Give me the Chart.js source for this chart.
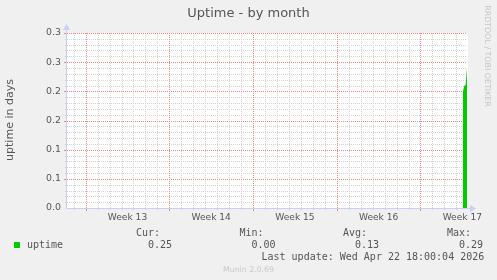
<!DOCTYPE html>
<html>
<head>
<meta charset="utf-8">
<script src="https://cdn.jsdelivr.net/npm/chart.js@4.4.1/dist/chart.umd.min.js"></script>
<style>
  html, body { margin: 0; padding: 0; background: #f0f0f0; }
  #wrap { width: 497px; height: 280px; }
</style>
</head>
<body>
<div id="wrap"><canvas id="uptime-chart" width="497" height="280"></canvas></div>
<script>
// data (x in days since graph start)
const xMaxDays = 33.45;
const yTicks = [0, 0.05, 0.1, 0.15, 0.2, 0.25, 0.3];
const yTickLabels = ['0.0', '0.1', '0.1', '0.2', '0.2', '0.3', '0.3'];
const weekStartDays = [1.56, 8.56, 15.56, 22.56, 29.56];
const weekLabels = ['Week 13', 'Week 14', 'Week 15', 'Week 16', 'Week 17'];
const uptimeDays = [33.11, 33.23, 33.33, 33.45];
const uptimeValues = [0.20, 0.21, 0.21, 0.24];
const legendHeads = ['Cur:', 'Min:', 'Avg:', 'Max:'];
const legendValues = ['0.25', '0.00', '0.13', '0.29'];

const TEXT = '#555555';
const AXIS = '#c9cff5';
const GRID = '#d2d2d2';
const MGRID = '#ee8484';
const GREEN = '#00cc00';
const SANS = '"DejaVu Sans", sans-serif';
const MONO = '"DejaVu Sans Mono", monospace';

function dotted(ctx, color, x1, y1, x2, y2) {
    ctx.save();
    ctx.strokeStyle = color;
    ctx.lineWidth = 1;
    ctx.setLineDash([1, 1]);
    ctx.beginPath();
    ctx.moveTo(x1, y1);
    ctx.lineTo(x2, y2);
    ctx.stroke();
    ctx.restore();
}

const muninBackground = {
    id: 'muninBackground',
    beforeDraw(chart) {
        const { ctx, chartArea: a, scales } = chart;
        const x = scales.x, y = scales.y;
        ctx.save();
        ctx.fillStyle = '#f0f0f0';
        ctx.fillRect(0, 0, chart.width, chart.height);
        ctx.fillStyle = '#ffffff';
        ctx.fillRect(a.left, a.top, a.right - a.left + 1, a.bottom - a.top);

        // minor grid: every day / every 0.01
        for (let d = weekStartDays[0] - 1; d <= xMaxDays; d += 1) {
            const px = Math.round(x.getPixelForValue(d)) + 0.5;
            dotted(ctx, GRID, px, a.top, px, a.bottom);
            ctx.strokeStyle = GRID; ctx.beginPath(); ctx.moveTo(px, a.bottom); ctx.lineTo(px, a.bottom + 2); ctx.stroke();
        }
        for (let i = 1; i < 30; i++) {
            if (i % 5 === 0) continue;
            const py = Math.round(y.getPixelForValue(i / 100)) + 0.5;
            dotted(ctx, GRID, a.left, py, a.right, py);
            ctx.strokeStyle = GRID; ctx.beginPath(); ctx.moveTo(a.left - 2, py); ctx.lineTo(a.left, py); ctx.stroke();
        }
        // major grid
        weekStartDays.forEach(d => {
            const px = Math.round(x.getPixelForValue(d)) + 0.5;
            dotted(ctx, MGRID, px, a.top, px, a.bottom);
            ctx.strokeStyle = MGRID; ctx.beginPath(); ctx.moveTo(px, a.bottom); ctx.lineTo(px, a.bottom + 3); ctx.stroke();
        });
        yTicks.forEach(v => {
            if (v === 0) return;
            const py = Math.round(y.getPixelForValue(v)) + 0.5;
            dotted(ctx, MGRID, a.left, py, a.right, py);
            ctx.strokeStyle = MGRID; ctx.beginPath(); ctx.moveTo(a.left - 3, py); ctx.lineTo(a.left, py); ctx.stroke();
        });
        ctx.restore();
    }
};

const muninDecor = {
    id: 'muninDecor',
    afterDraw(chart) {
        const { ctx, chartArea: a, scales } = chart;
        const x = scales.x, y = scales.y;
        const ax = Math.round(a.left) - 0.5, ay = Math.round(a.bottom) + 0.5;
        ctx.save();

        // axes with arrows
        ctx.strokeStyle = AXIS; ctx.fillStyle = AXIS; ctx.lineWidth = 1;
        ctx.beginPath();
        ctx.moveTo(ax, ay); ctx.lineTo(ax, a.top - 4);
        ctx.moveTo(ax, ay); ctx.lineTo(a.right + 4, ay);
        ctx.stroke();
        ctx.beginPath();
        ctx.moveTo(ax - 3.5, a.top - 3); ctx.lineTo(ax + 3.5, a.top - 3); ctx.lineTo(ax, a.top - 9); ctx.closePath(); ctx.fill();
        ctx.beginPath();
        ctx.moveTo(a.right + 3, ay - 3.5); ctx.lineTo(a.right + 3, ay + 3.5); ctx.lineTo(a.right + 9, ay); ctx.closePath(); ctx.fill();

        // tick labels
        ctx.fillStyle = TEXT;
        ctx.font = '9.4px ' + SANS;
        ctx.textAlign = 'right'; ctx.textBaseline = 'middle';
        yTicks.forEach((v, i) => ctx.fillText(yTickLabels[i], a.left - 6, y.getPixelForValue(v)));
        ctx.font = '9.1px ' + SANS;
        ctx.textAlign = 'center';
        weekStartDays.forEach((d, i) => ctx.fillText(weekLabels[i], x.getPixelForValue(d + 3.5), a.bottom + 10));

        // titles
        ctx.font = '13px ' + SANS;
        ctx.fillText('Uptime - by month', 248.5, 14);
        ctx.save();
        ctx.translate(10, 120);
        ctx.rotate(-Math.PI / 2);
        ctx.font = '11px ' + SANS;
        ctx.fillText('uptime in days', 0, 0);
        ctx.restore();

        ctx.save();
        ctx.translate(487, 56);
        ctx.rotate(Math.PI / 2);
        ctx.fillStyle = '#c4c4c4';
        ctx.font = '7.9px ' + SANS;
        ctx.fillText('RRDTOOL / TOBI OETIKER', 0, 0);
        ctx.restore();

        // legend
        ctx.fillStyle = GREEN;
        ctx.fillRect(14, 242, 6, 6);
        ctx.fillStyle = TEXT;
        ctx.font = '10px ' + MONO;
        ctx.textAlign = 'left';
        ctx.fillText('uptime', 27, 245);
        const headX = [136, 239.5, 343, 447];
        legendHeads.forEach((h, i) => {
            ctx.fillText(h, headX[i], 233);
            ctx.fillText(legendValues[i], headX[i] + 12, 245);
        });
        ctx.fillText('Last update: Wed Apr 22 18:00:04 2026', 261.5, 257);

        ctx.fillStyle = '#c8c8c8';
        ctx.font = '7.8px ' + SANS;
        ctx.textAlign = 'center';
        ctx.fillText('Munin 2.0.69', 248.5, 270);
        ctx.restore();
    }
};

new Chart(document.getElementById('uptime-chart'), {
    type: 'line',
    data: {
        datasets: [{
            label: 'uptime',
            data: uptimeDays.map((d, i) => ({ x: d, y: uptimeValues[i] })),
            backgroundColor: GREEN,
            borderColor: GREEN,
            borderWidth: 0,
            pointRadius: 0,
            tension: 0,
            fill: 'origin'
        }]
    },
    options: {
        responsive: false,
        animation: false,
        events: [],
        layout: { padding: { left: 67, top: 33, right: 30, bottom: 72 } },
        plugins: { legend: { display: false }, tooltip: { enabled: false }, title: { display: false } },
        scales: {
            x: { type: 'linear', min: 0, max: xMaxDays, display: false },
            y: { type: 'linear', min: 0, max: 0.3, display: false }
        }
    },
    plugins: [muninBackground, muninDecor]
});
</script>
</body>
</html>
